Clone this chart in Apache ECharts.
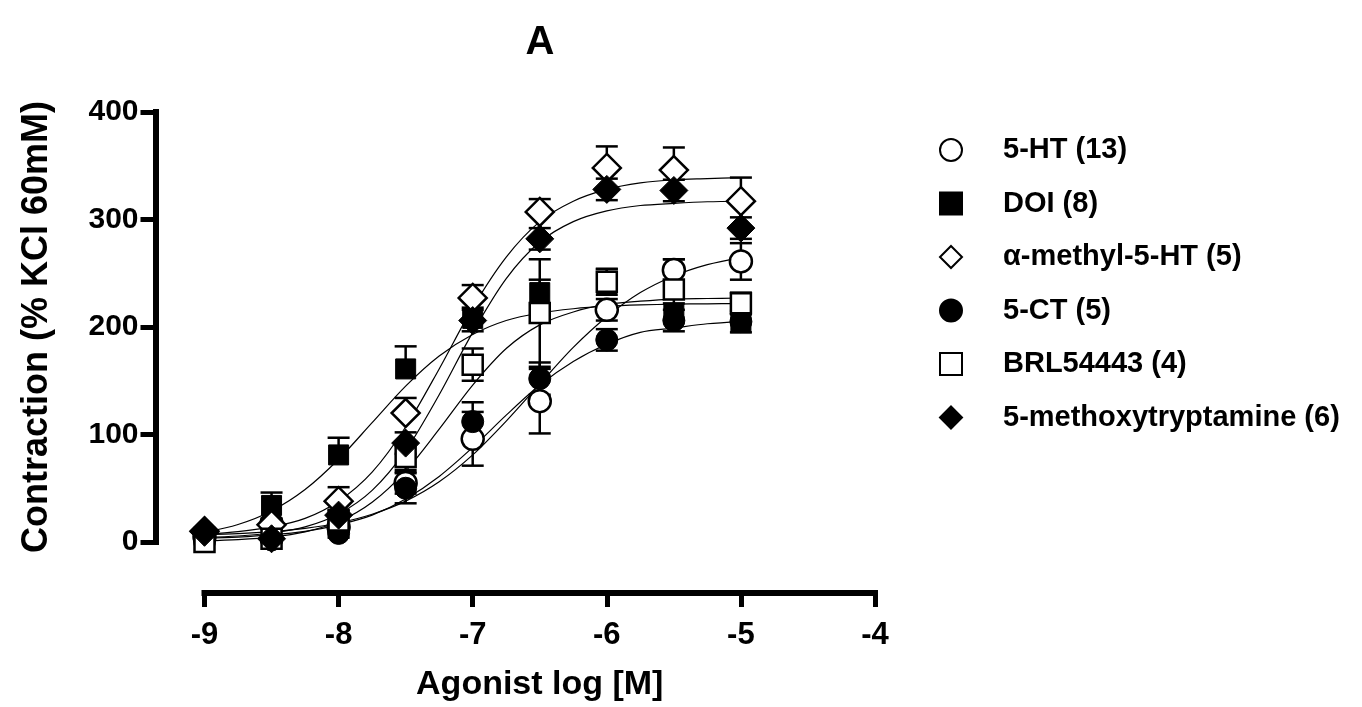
<!DOCTYPE html>
<html>
<head>
<meta charset="utf-8">
<script src="https://cdn.jsdelivr.net/npm/echarts@6/dist/echarts.min.js"></script>
<style>
html,body{margin:0;padding:0;background:#fff;}
#chart{width:1362px;height:707px;}
</style>
</head>
<body>
<div id="chart"></div>
<script>
// ---- data ----
const doses = [-9, -8.5, -8, -7.5, -7, -6.5, -6, -5.5, -5];
const fitX = [-9, -8.75, -8.5, -8.25, -8, -7.75, -7.5, -7.25, -7, -6.75, -6.5, -6.25, -6, -5.75, -5.5, -5.25, -5];
const xTicks = [-9, -8, -7, -6, -5, -4];
const yTicks = [0, 100, 200, 300, 400];
const seriesNames = ['5-HT (13)', 'DOI (8)', 'α-methyl-5-HT (5)', '5-CT (5)', 'BRL54443 (4)', '5-methoxytryptamine (6)'];

const htMean   = [5, 17, 14, 55, 96, 131, 216, 253, 261];
const htSem    = [3, 5, 5, 10, 25, 30, 10, 10, 17];
const htFit    = [6.7, 7.8, 9.7, 12.7, 17.7, 25.8, 38, 56, 81, 112.5, 147, 181, 209.5, 232, 247.5, 258, 264.6];

const doiMean  = [0, 34, 81, 161, 208, 232, 240, 212, 204];
const doiSem   = [3, 12, 16, 21, 10, 12, 14, 10, 8];
const doiFit   = [9, 16.3, 28.9, 48.8, 77, 111, 145, 173, 193, 206, 213, 217, 219.4, 220.6, 221.2, 221.6, 221.8];

const amMean   = [10, 16, 38, 120, 227, 307, 348, 346, 317];
const amSem    = [3, 5, 13, 14, 12, 12, 20, 21, 22];
const amFit    = [7, 9.6, 14, 22, 38, 65, 107, 161, 218, 265, 298, 317, 328, 334, 337, 338, 339];

const ctMean   = [2, 2, 8, 50, 112, 152, 188, 206, 205];
const ctSem    = [2, 2, 4, 14, 18, 15, 10, 10, 10];
const ctFit    = [3.5, 4.6, 6.6, 9.9, 16, 25, 40, 61, 88, 118, 146, 168, 184, 195, 199, 203, 205];

const brlMean  = [0, 3, 20, 79, 165, 213, 242, 235, 222];
const brlSem   = [2, 3, 5, 12, 15, 50, 12, 28, 10];
const brlFit   = [1, 2.2, 4.5, 9.4, 19, 37, 66, 105, 146, 180, 202, 214, 221, 224, 226, 226.5, 227];

const moMean   = [9, 3, 25, 92, 206, 282, 328, 327, 292];
const moSem    = [3, 2, 5, 10, 10, 10, 10, 10, 10];
const moFit    = [4.3, 5.6, 8.4, 14, 26, 48, 85, 137, 195, 245, 279, 298, 308, 313, 315, 316.5, 317];

// ---- styling ----
const FONT = "'Liberation Sans', Arial, sans-serif";
const groups = [
  {name: seriesNames[0], mean: htMean,  sem: htSem,  fit: htFit,  symbol: 'circle',  size: 22, open: true,  dir: 'both'},
  {name: seriesNames[1], mean: doiMean, sem: doiSem, fit: doiFit, symbol: 'rect',    size: 20, open: false, dir: 'up'},
  {name: seriesNames[2], mean: amMean,  sem: amSem,  fit: amFit,  symbol: 'diamond', size: 28, open: true,  dir: 'up'},
  {name: seriesNames[3], mean: ctMean,  sem: ctSem,  fit: ctFit,  symbol: 'circle',  size: 22, open: false, dir: 'both'},
  {name: seriesNames[4], mean: brlMean, sem: brlSem, fit: brlFit, symbol: 'rect',    size: 20, open: true,  dir: 'both'},
  {name: seriesNames[5], mean: moMean,  sem: moSem,  fit: moFit,  symbol: 'diamond', size: 28, open: false, dir: 'both'}
];

const series = [];
groups.forEach(function (g) {
  // fitted curve
  series.push({
    type: 'line',
    name: g.name + ' fit',
    data: fitX.map(function (x, i) { return [x, g.fit[i]]; }),
    smooth: 0.3,
    showSymbol: false,
    silent: true,
    lineStyle: {color: '#000', width: 1.2},
    z: 3
  });
  // error bars
  series.push({
    type: 'custom',
    name: g.name + ' err',
    silent: true,
    z: 2,
    data: doses.map(function (x, i) {
      const lo = g.dir === 'both' ? g.mean[i] - g.sem[i] : g.mean[i];
      return [x, lo, g.mean[i] + g.sem[i]];
    }),
    renderItem: function (params, api) {
      const x = api.value(0);
      const pLo = api.coord([x, api.value(1)]);
      const pHi = api.coord([x, api.value(2)]);
      const hw = 11;
      const children = [
        {type: 'line', shape: {x1: pLo[0], y1: pLo[1], x2: pHi[0], y2: pHi[1]}, style: {stroke: '#000', lineWidth: 2.5}},
        {type: 'line', shape: {x1: pHi[0] - hw, y1: pHi[1], x2: pHi[0] + hw, y2: pHi[1]}, style: {stroke: '#000', lineWidth: 2.5}}
      ];
      if (g.dir === 'both') {
        children.push({type: 'line', shape: {x1: pLo[0] - hw, y1: pLo[1], x2: pLo[0] + hw, y2: pLo[1]}, style: {stroke: '#000', lineWidth: 2.5}});
      }
      return {type: 'group', children: children};
    }
  });
  // data points
  series.push({
    type: 'scatter',
    name: g.name,
    data: doses.map(function (x, i) { return [x, g.mean[i]]; }),
    symbol: g.symbol,
    symbolSize: g.size,
    itemStyle: g.open
      ? {color: '#fff', borderColor: '#000', borderWidth: 2.5, opacity: 1}
      : {color: '#000', borderColor: '#000', borderWidth: 1, opacity: 1},
    emphasis: {disabled: true},
    z: 4
  });
});

const chart = echarts.init(document.getElementById('chart'), null, {renderer: 'canvas'});
chart.setOption({
  animation: false,
  backgroundColor: '#fff',
  title: {
    text: 'A', left: 535, top: 18, textAlign: 'center',
    textStyle: {fontFamily: FONT, fontSize: 40, fontWeight: 'bold', color: '#000'}
  },
  legend: {
    data: seriesNames,
    orient: 'vertical',
    left: 934, top: 130,
    itemWidth: 22, itemHeight: 22,
    itemGap: 23.5,
    selectedMode: false,
    textStyle: {fontFamily: FONT, fontSize: 29, fontWeight: 'bold', color: '#000', lineHeight: 30, padding: [0, 0, 0, 36]}
  },
  grid: {left: 204.5, right: 487, top: 112, bottom: 165},
  xAxis: {
    type: 'value', min: xTicks[0], max: xTicks[xTicks.length - 1], interval: 1,
    offset: 51,
    name: 'Agonist log [M]', nameLocation: 'middle', nameGap: 75,
    nameTextStyle: {fontFamily: FONT, fontSize: 34, fontWeight: 'bold', color: '#000'},
    axisLine: {show: true, onZero: false, lineStyle: {color: '#000', width: 6, cap: 'square'}},
    axisTick: {show: true, length: 14, lineStyle: {color: '#000', width: 5}},
    axisLabel: {margin: 27, fontFamily: FONT, fontSize: 31, fontWeight: 'bold', color: '#000'},
    splitLine: {show: false}
  },
  yAxis: {
    type: 'value', min: yTicks[0], max: yTicks[yTicks.length - 1], interval: 100,
    offset: 49,
    name: 'Contraction (% KCl 60mM)', nameLocation: 'middle', nameGap: 100,
    nameTextStyle: {fontFamily: FONT, fontSize: 36, fontWeight: 'bold', color: '#000'},
    axisLine: {show: true, onZero: false, lineStyle: {color: '#000', width: 6, cap: 'square'}},
    axisTick: {show: true, length: 15, lineStyle: {color: '#000', width: 5}},
    axisLabel: {margin: 17, fontFamily: FONT, fontSize: 30, fontWeight: 'bold', color: '#000'},
    splitLine: {show: false}
  },
  series: series
});
</script>
</body>
</html>
